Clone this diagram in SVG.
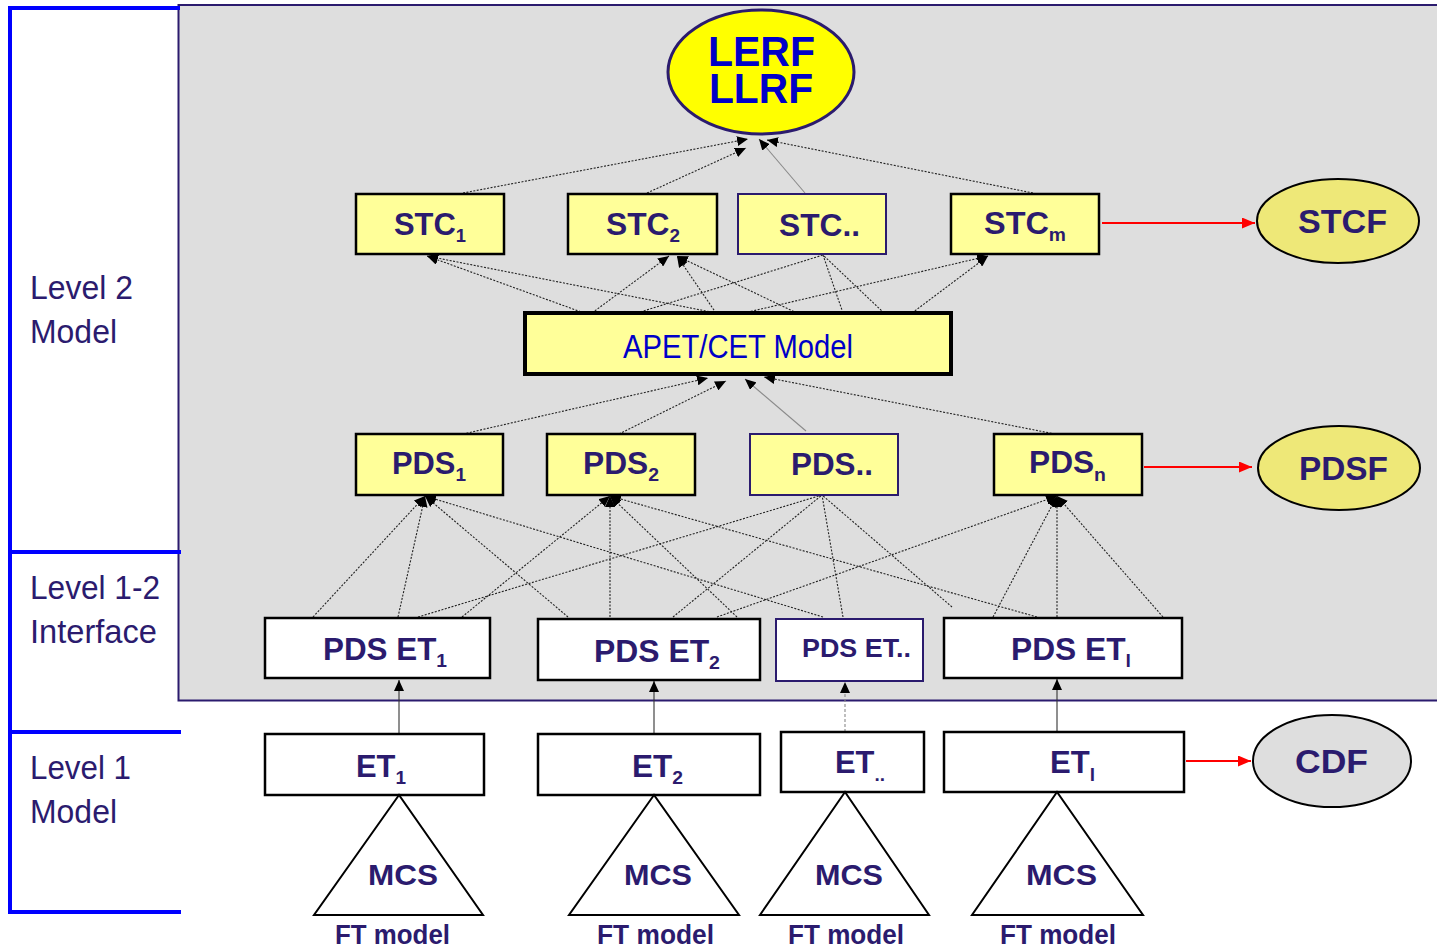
<svg xmlns="http://www.w3.org/2000/svg" width="1437" height="947" viewBox="0 0 1437 947">
<defs>
<style>
.t{font-family:"Liberation Sans",Arial,sans-serif;font-weight:bold;fill:#2b1b6e}
.lv{font-family:"Liberation Sans",Arial,sans-serif;font-size:33px;fill:#2b1b6e}
.yb{fill:#ffff99;stroke:#000;stroke-width:2.5}
.yn{fill:#ffff99;stroke:#2b1b6e;stroke-width:2}
.wb{fill:#fff;stroke:#000;stroke-width:2.5}
.wn{fill:#fff;stroke:#2b1b6e;stroke-width:2}
.dt{stroke:#222;stroke-width:1.1;stroke-dasharray:2 1.5;fill:none}
.gy{stroke:#8a8a8a;stroke-width:1.1;fill:none}
.sl{stroke:#333;stroke-width:1.1;fill:none}
.rd{stroke:#ff0000;stroke-width:2;fill:none}
.br{stroke:#0000ff;stroke-width:4;fill:none}
</style>
<marker id="ah" markerUnits="userSpaceOnUse" markerWidth="11" markerHeight="10" refX="11" refY="5" orient="auto"><path d="M0,0 L11,5 L0,10 z" fill="#000"/></marker>
<marker id="ar" markerUnits="userSpaceOnUse" markerWidth="13" markerHeight="11" refX="13" refY="5.5" orient="auto"><path d="M0,0 L13,5.5 L0,11 z" fill="#ff0000"/></marker>
</defs>
<rect width="1437" height="947" fill="#fff"/>
<g id="panel">
<rect x="178.5" y="5" width="1270" height="695.5" fill="#dedede" stroke="#2b1b6e" stroke-width="2"/>
</g>
<g id="levels">
<path class="br" d="M180,8 H10 V912 H181 M10,552 H181 M10,732 H181"/>
<text class="lv" x="30" y="299" textLength="103" lengthAdjust="spacingAndGlyphs">Level 2</text>
<text class="lv" x="30" y="343" textLength="87" lengthAdjust="spacingAndGlyphs">Model</text>
<text class="lv" x="30" y="599" textLength="130" lengthAdjust="spacingAndGlyphs">Level 1-2</text>
<text class="lv" x="30" y="643" textLength="127" lengthAdjust="spacingAndGlyphs">Interface</text>
<text class="lv" x="30" y="779" textLength="101" lengthAdjust="spacingAndGlyphs">Level 1</text>
<text class="lv" x="30" y="823" textLength="87" lengthAdjust="spacingAndGlyphs">Model</text>
</g>
<g id="connectors">
<line class="dt" x1="463" y1="193" x2="748" y2="139" marker-end="url(#ah)"/>
<line class="dt" x1="647" y1="193" x2="746" y2="148" marker-end="url(#ah)"/>
<line class="gy" x1="805" y1="193" x2="759" y2="139" marker-end="url(#ah)"/>
<line class="dt" x1="1033" y1="193" x2="767" y2="140" marker-end="url(#ah)"/>
<line class="dt" x1="584" y1="313" x2="427" y2="256" marker-end="url(#ah)"/>
<line class="dt" x1="716" y1="313" x2="427" y2="256" marker-end="url(#ah)"/>
<line class="dt" x1="592" y1="313" x2="669" y2="256" marker-end="url(#ah)"/>
<line class="dt" x1="716" y1="313" x2="677" y2="256" marker-end="url(#ah)"/>
<line class="dt" x1="797" y1="313" x2="677" y2="256" marker-end="url(#ah)"/>
<line class="dt" x1="637" y1="313" x2="823" y2="255"/>
<line class="dt" x1="843" y1="313" x2="823" y2="255"/>
<line class="dt" x1="884" y1="313" x2="823" y2="255"/>
<line class="dt" x1="744" y1="313" x2="988" y2="256" marker-end="url(#ah)"/>
<line class="dt" x1="912" y1="313" x2="988" y2="256" marker-end="url(#ah)"/>
<line class="dt" x1="463" y1="434" x2="708" y2="378" marker-end="url(#ah)"/>
<line class="dt" x1="619" y1="434" x2="726" y2="381" marker-end="url(#ah)"/>
<line class="gy" x1="806" y1="431" x2="745" y2="379" marker-end="url(#ah)"/>
<line class="dt" x1="1055" y1="434" x2="764" y2="377" marker-end="url(#ah)"/>
<line class="dt" x1="313" y1="617" x2="425" y2="496" marker-end="url(#ah)"/>
<line class="dt" x1="398" y1="617" x2="425" y2="496" marker-end="url(#ah)"/>
<line class="dt" x1="568" y1="617" x2="425" y2="496" marker-end="url(#ah)"/>
<line class="dt" x1="823" y1="617" x2="425" y2="496" marker-end="url(#ah)"/>
<line class="dt" x1="462" y1="617" x2="610" y2="496" marker-end="url(#ah)"/>
<line class="dt" x1="610" y1="617" x2="610" y2="496" marker-end="url(#ah)"/>
<line class="dt" x1="737" y1="617" x2="610" y2="496" marker-end="url(#ah)"/>
<line class="dt" x1="1037" y1="617" x2="610" y2="496" marker-end="url(#ah)"/>
<line class="dt" x1="418" y1="617" x2="822" y2="495"/>
<line class="dt" x1="673" y1="617" x2="822" y2="495"/>
<line class="dt" x1="843" y1="617" x2="822" y2="495"/>
<line class="dt" x1="952" y1="607" x2="822" y2="495"/>
<line class="dt" x1="717" y1="617" x2="1057" y2="496" marker-end="url(#ah)"/>
<line class="dt" x1="993" y1="617" x2="1057" y2="496" marker-end="url(#ah)"/>
<line class="dt" x1="1057" y1="617" x2="1057" y2="496" marker-end="url(#ah)"/>
<line class="dt" x1="1163" y1="617" x2="1057" y2="496" marker-end="url(#ah)"/>
<line class="sl" x1="399" y1="734" x2="399" y2="680" marker-end="url(#ah)"/>
<line class="sl" x1="654" y1="734" x2="654" y2="681" marker-end="url(#ah)"/>
<line class="gy" x1="845" y1="732" x2="845" y2="682" stroke-dasharray="3 2" marker-end="url(#ah)"/>
<line class="sl" x1="1057" y1="732" x2="1057" y2="679" marker-end="url(#ah)"/>
<line class="rd" x1="1102" y1="223" x2="1255" y2="223" marker-end="url(#ar)"/>
<line class="rd" x1="1144" y1="467" x2="1252" y2="467" marker-end="url(#ar)"/>
<line class="rd" x1="1186" y1="761" x2="1251" y2="761" marker-end="url(#ar)"/>
</g>
<g id="lerf">
<ellipse cx="761" cy="72" rx="93" ry="62" fill="#ffff00" stroke="#2b1b6e" stroke-width="3"/>
<text class="t" font-size="42" style="fill:#0000c8"><tspan x="708" y="66" textLength="107" lengthAdjust="spacingAndGlyphs">LERF</tspan><tspan x="709" y="103" textLength="104" lengthAdjust="spacingAndGlyphs">LLRF</tspan></text>
</g>
<g id="stc1">
<rect class="yb" x="356" y="194" width="148" height="60"/>
<text class="t" x="394" y="235" font-size="32" textLength="72" lengthAdjust="spacingAndGlyphs">STC<tspan font-size="19" dy="7">1</tspan></text>
</g>
<g id="stc2">
<rect class="yb" x="568" y="194" width="149" height="60"/>
<text class="t" x="606" y="235" font-size="32" textLength="74" lengthAdjust="spacingAndGlyphs">STC<tspan font-size="19" dy="7">2</tspan></text>
</g>
<g id="stcdots">
<rect class="yn" x="738" y="194" width="148" height="60"/>
<text class="t" x="779" y="236" font-size="32" textLength="81" lengthAdjust="spacingAndGlyphs">STC..</text>
</g>
<g id="stcm">
<rect class="yb" x="951" y="194" width="148" height="60"/>
<text class="t" x="984" y="234" font-size="32" textLength="82" lengthAdjust="spacingAndGlyphs">STC<tspan font-size="19" dy="7">m</tspan></text>
</g>
<g id="stcf">
<ellipse cx="1338" cy="221" rx="81" ry="42" fill="#eee878" stroke="#000" stroke-width="2"/>
<text class="t" x="1298" y="233" font-size="33" textLength="89" lengthAdjust="spacingAndGlyphs">STCF</text>
</g>
<g id="apet">
<rect x="525" y="313" width="426" height="61" fill="#ffff99" stroke="#000" stroke-width="4"/>
<text x="623" y="358" font-family="Liberation Sans, Arial, sans-serif" font-size="33" fill="#0000c8" textLength="230" lengthAdjust="spacingAndGlyphs">APET/CET Model</text>
</g>
<g id="pds1">
<rect class="yb" x="356" y="434" width="147" height="61"/>
<text class="t" x="392" y="474" font-size="31" textLength="74" lengthAdjust="spacingAndGlyphs">PDS<tspan font-size="19" dy="7">1</tspan></text>
</g>
<g id="pds2">
<rect class="yb" x="547" y="434" width="148" height="61"/>
<text class="t" x="583" y="474" font-size="31" textLength="76" lengthAdjust="spacingAndGlyphs">PDS<tspan font-size="19" dy="7">2</tspan></text>
</g>
<g id="pdsdots">
<rect class="yn" x="750" y="434" width="148" height="61"/>
<text class="t" x="791" y="475" font-size="31" textLength="82" lengthAdjust="spacingAndGlyphs">PDS..</text>
</g>
<g id="pdsn">
<rect class="yb" x="994" y="434" width="148" height="61"/>
<text class="t" x="1029" y="473" font-size="31" textLength="77" lengthAdjust="spacingAndGlyphs">PDS<tspan font-size="19" dy="8">n</tspan></text>
</g>
<g id="pdsf">
<ellipse cx="1339" cy="468" rx="81" ry="42" fill="#eee878" stroke="#000" stroke-width="2"/>
<text class="t" x="1299" y="480" font-size="33" textLength="89" lengthAdjust="spacingAndGlyphs">PDSF</text>
</g>
<g id="pdset1">
<rect class="wb" x="265" y="618" width="225" height="60"/>
<text class="t" x="323" y="660" font-size="31" textLength="124" lengthAdjust="spacingAndGlyphs">PDS ET<tspan font-size="19" dy="7">1</tspan></text>
</g>
<g id="pdset2">
<rect class="wb" x="538" y="619" width="222" height="61"/>
<text class="t" x="594" y="662" font-size="31" textLength="126" lengthAdjust="spacingAndGlyphs">PDS ET<tspan font-size="19" dy="7">2</tspan></text>
</g>
<g id="pdsetdots">
<rect class="wn" x="776" y="619" width="147" height="62"/>
<text class="t" x="802" y="657" font-size="26" textLength="109" lengthAdjust="spacingAndGlyphs">PDS ET..</text>
</g>
<g id="pdsetl">
<rect class="wb" x="944" y="618" width="238" height="60"/>
<text class="t" x="1011" y="660" font-size="31" textLength="120" lengthAdjust="spacingAndGlyphs">PDS ET<tspan font-size="19" dy="7">l</tspan></text>
</g>
<g id="et1">
<rect class="wb" x="265" y="734" width="219" height="61"/>
<text class="t" x="356" y="777" font-size="31" textLength="50" lengthAdjust="spacingAndGlyphs">ET<tspan font-size="19" dy="7">1</tspan></text>
<polygon points="399,795 314,915 483,915" fill="#fff" stroke="#000" stroke-width="2"/>
<text class="t" x="368" y="885" font-size="30" textLength="70" lengthAdjust="spacingAndGlyphs">MCS</text>
<text class="t" x="335" y="944" font-size="27" textLength="115" lengthAdjust="spacingAndGlyphs">FT model</text>
</g>
<g id="et2">
<rect class="wb" x="538" y="734" width="222" height="61"/>
<text class="t" x="632" y="777" font-size="31" textLength="51" lengthAdjust="spacingAndGlyphs">ET<tspan font-size="19" dy="7">2</tspan></text>
<polygon points="654,795 569,915 739,915" fill="#fff" stroke="#000" stroke-width="2"/>
<text class="t" x="624" y="885" font-size="30" textLength="68" lengthAdjust="spacingAndGlyphs">MCS</text>
<text class="t" x="597" y="944" font-size="27" textLength="117" lengthAdjust="spacingAndGlyphs">FT model</text>
</g>
<g id="etdots">
<rect class="wb" x="781" y="732" width="143" height="60"/>
<text class="t" x="835" y="773" font-size="31" textLength="50" lengthAdjust="spacingAndGlyphs">ET<tspan font-size="19" dy="8">..</tspan></text>
<polygon points="845,792 760,915 929,915" fill="#fff" stroke="#000" stroke-width="2"/>
<text class="t" x="815" y="885" font-size="30" textLength="68" lengthAdjust="spacingAndGlyphs">MCS</text>
<text class="t" x="788" y="944" font-size="27" textLength="116" lengthAdjust="spacingAndGlyphs">FT model</text>
</g>
<g id="etl">
<rect class="wb" x="944" y="732" width="240" height="60"/>
<text class="t" x="1050" y="773" font-size="31" textLength="45" lengthAdjust="spacingAndGlyphs">ET<tspan font-size="19" dy="8">l</tspan></text>
<polygon points="1057,792 972,915 1143,915" fill="#fff" stroke="#000" stroke-width="2"/>
<text class="t" x="1026" y="885" font-size="30" textLength="71" lengthAdjust="spacingAndGlyphs">MCS</text>
<text class="t" x="1000" y="944" font-size="27" textLength="116" lengthAdjust="spacingAndGlyphs">FT model</text>
</g>
<g id="cdf">
<ellipse cx="1332" cy="761" rx="79" ry="46" fill="#dedede" stroke="#000" stroke-width="2"/>
<text class="t" x="1295" y="773" font-size="33" textLength="73" lengthAdjust="spacingAndGlyphs">CDF</text>
</g>
</svg>
